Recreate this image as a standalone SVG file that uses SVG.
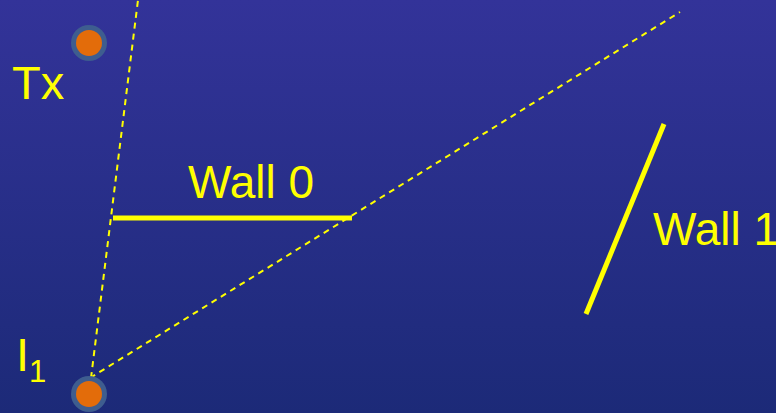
<svg xmlns="http://www.w3.org/2000/svg" width="776" height="413" viewBox="0 0 776 413">
<defs>
<linearGradient id="bg" x1="0" y1="0" x2="0" y2="1">
<stop offset="0" stop-color="#333399"/>
<stop offset="1" stop-color="#1c2a78"/>
</linearGradient>
<style>
.lbl{font-family:"Liberation Sans",Arial,sans-serif;fill:#ffff00;}
.wall{stroke:#ffff00;stroke-width:5;fill:none;}
.ray{stroke:#ffff00;stroke-width:2;stroke-dasharray:6 5;fill:none;}
.ring{fill:#3e5d8f;}
.dot{fill:#e36c0a;}
</style>
</defs>
<rect width="776" height="413" fill="url(#bg)"/>
<g id="connectors">
<line class="ray" x1="91" y1="378" x2="138" y2="0"/>
<line class="ray" x1="90" y1="378" x2="680" y2="12"/>
</g>
<g id="tx">
<circle class="ring" cx="89" cy="43" r="18"/>
<circle class="dot" cx="89" cy="43" r="13"/>
<text class="lbl" x="12" y="99" font-size="47">Tx</text>
</g>
<g id="i1">
<circle class="ring" cx="89" cy="394" r="18"/>
<circle class="dot" cx="89" cy="394" r="13"/>
<text class="lbl" x="16" y="371" font-size="47">I</text>
<text class="lbl" x="29" y="382" font-size="31">1</text>
</g>
<g id="wall0">
<line class="wall" x1="113" y1="218" x2="352" y2="218"/>
<text class="lbl" x="188" y="198" font-size="46">Wall 0</text>
</g>
<g id="wall1">
<line class="wall" x1="664" y1="124" x2="586" y2="314"/>
<text class="lbl" x="653" y="245" font-size="46">Wall 1</text>
</g>
</svg>
